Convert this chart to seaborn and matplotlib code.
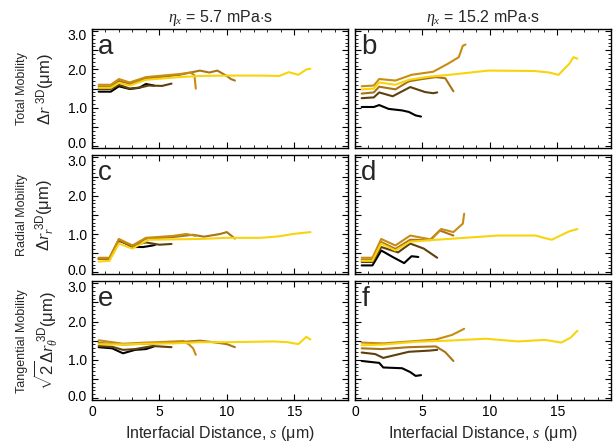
import numpy as np
import pandas as pd
import matplotlib
matplotlib.use('Agg')
import matplotlib.pyplot as plt
import matplotlib.transforms as mtransforms
from matplotlib.ticker import MultipleLocator
import seaborn as sns

sns.set_style('ticks')
plt.rcParams['font.family'] = ['Liberation Sans', 'DejaVu Sans']
plt.rcParams['mathtext.fontset'] = 'custom'
plt.rcParams['mathtext.rm'] = 'Liberation Sans'
plt.rcParams['mathtext.it'] = 'Liberation Serif:italic'

# series names (dark -> bright) and colours
series = ['S1', 'S2', 'S3', 'S4', 'S5']
colors = ['#000000', '#5e400e', '#a87418', '#c88c12', '#f8d40c']

# ---- panel a : total mobility, 5.7 mPa.s ----
a_s = {
    'S1': [0.5, 1.4, 2.0, 2.8, 3.5, 4.0, 4.6],
    'S2': [0.5, 1.4, 2.0, 2.8, 3.6, 4.2, 5.2, 5.9],
    'S3': [0.5, 1.4, 2.0, 2.8, 4.0, 6.5, 8.0, 8.7, 9.3, 10.0, 10.3, 10.6],
    'S4': [0.5, 1.4, 2.0, 2.8, 4.0, 6.5, 7.3, 7.6, 7.7],
    'S5': [0.5, 1.4, 2.0, 2.8, 4.0, 6.5, 8.0, 10.0, 12.5, 13.9, 14.6, 15.3, 15.9, 16.2],
}
a_v = {
    'S1': [1.42, 1.42, 1.56, 1.49, 1.52, 1.62, 1.58],
    'S2': [1.49, 1.49, 1.60, 1.50, 1.53, 1.58, 1.57, 1.63],
    'S3': [1.55, 1.55, 1.70, 1.62, 1.76, 1.86, 1.97, 1.92, 1.97, 1.83, 1.75, 1.71],
    'S4': [1.60, 1.60, 1.75, 1.66, 1.80, 1.88, 1.92, 1.85, 1.50],
    'S5': [1.52, 1.52, 1.65, 1.58, 1.73, 1.80, 1.83, 1.84, 1.84, 1.83, 1.93, 1.86, 2.00, 2.02],
}

# ---- panel b : total mobility, 15.2 mPa.s ----
b_s = {
    'S1': [0.5, 1.4, 1.8, 2.5, 3.5, 4.0, 4.5, 4.9],
    'S2': [0.5, 1.4, 1.8, 2.8, 4.1, 5.2, 5.8, 6.1],
    'S3': [0.5, 1.4, 1.8, 3.0, 4.0, 5.0, 6.0, 6.7, 7.3],
    'S4': [0.5, 1.4, 1.8, 3.0, 4.2, 5.8, 6.9, 7.7, 8.0, 8.2],
    'S5': [0.5, 1.4, 1.8, 3.0, 4.0, 5.5, 7.0, 9.9, 13.3, 14.4, 15.1, 15.9, 16.2, 16.5],
}
b_v = {
    'S1': [1.02, 1.02, 1.07, 0.97, 0.93, 0.89, 0.80, 0.77],
    'S2': [1.25, 1.27, 1.40, 1.30, 1.54, 1.41, 1.38, 1.40],
    'S3': [1.37, 1.40, 1.55, 1.48, 1.69, 1.75, 1.80, 1.77, 1.43],
    'S4': [1.56, 1.58, 1.75, 1.71, 1.86, 1.94, 2.15, 2.32, 2.62, 2.65],
    'S5': [1.48, 1.50, 1.66, 1.60, 1.73, 1.81, 1.86, 1.97, 1.96, 1.92, 1.86, 2.15, 2.32, 2.28],
}

# ---- panel c : radial mobility, 5.7 mPa.s ----
c_s = {
    'S1': [0.5, 1.3, 2.0, 3.0, 3.8, 4.5, 4.7],
    'S2': [0.5, 1.3, 2.0, 3.0, 4.0, 5.0, 5.9],
    'S3': [0.5, 1.3, 2.0, 3.0, 4.0, 6.0, 7.5, 8.3, 9.5, 10.0, 10.6],
    'S4': [0.5, 1.3, 2.0, 3.0, 4.0, 6.0, 7.0, 7.7],
    'S5': [0.5, 1.3, 2.0, 3.0, 4.2, 6.0, 8.0, 10.0, 12.5, 13.9, 14.9, 16.2],
}
c_v = {
    'S1': [0.36, 0.36, 0.85, 0.66, 0.66, 0.70, 0.72],
    'S2': [0.35, 0.35, 0.82, 0.70, 0.78, 0.72, 0.74],
    'S3': [0.35, 0.35, 0.85, 0.68, 0.88, 0.92, 0.98, 0.93, 1.00, 1.05, 0.88],
    'S4': [0.38, 0.38, 0.87, 0.70, 0.90, 0.95, 1.00, 0.95],
    'S5': [0.28, 0.30, 0.75, 0.62, 0.85, 0.86, 0.87, 0.90, 0.90, 0.94, 1.00, 1.05],
}

# ---- panel d : radial mobility, 15.2 mPa.s ----
d_s = {
    'S1': [0.5, 1.3, 1.95, 2.8, 3.65, 4.2, 4.7],
    'S2': [0.5, 1.3, 1.95, 3.2, 4.1, 5.1, 6.1],
    'S3': [0.5, 1.3, 1.95, 3.0, 4.1, 5.6, 6.3, 7.3],
    'S4': [0.5, 1.3, 1.95, 3.0, 4.1, 5.6, 6.4, 7.3, 8.0, 8.1],
    'S5': [0.5, 1.3, 1.95, 3.0, 4.1, 5.6, 6.9, 10.6, 13.4, 14.0, 14.6, 15.0, 15.9, 16.5],
}
d_v = {
    'S1': [0.18, 0.18, 0.57, 0.40, 0.24, 0.42, 0.40],
    'S2': [0.27, 0.27, 0.66, 0.52, 0.75, 0.62, 0.38],
    'S3': [0.33, 0.33, 0.79, 0.61, 0.85, 0.84, 1.09, 0.96],
    'S4': [0.38, 0.38, 0.87, 0.70, 0.96, 0.86, 1.13, 1.05, 1.27, 1.53],
    'S5': [0.30, 0.30, 0.75, 0.57, 0.80, 0.84, 0.87, 0.96, 0.96, 0.90, 0.85, 0.92, 1.07, 1.13],
}

# ---- panel e : tangential mobility, 5.7 mPa.s ----
e_s = {
    'S1': [0.5, 1.5, 2.3, 3.2, 4.0, 4.6],
    'S2': [0.5, 1.5, 2.3, 3.2, 4.5, 5.9],
    'S3': [0.5, 2.3, 4.0, 6.0, 8.0, 9.0, 10.0, 10.6],
    'S4': [0.5, 2.3, 4.0, 5.5, 6.8, 7.2, 7.5, 7.7],
    'S5': [0.5, 2.3, 4.0, 6.1, 8.0, 10.0, 13.5, 14.5, 15.3, 15.9, 16.2],
}
e_v = {
    'S1': [1.33, 1.30, 1.17, 1.26, 1.28, 1.35],
    'S2': [1.36, 1.34, 1.26, 1.28, 1.36, 1.33],
    'S3': [1.44, 1.40, 1.42, 1.45, 1.50, 1.46, 1.41, 1.33],
    'S4': [1.51, 1.42, 1.45, 1.47, 1.49, 1.40, 1.30, 1.13],
    'S5': [1.41, 1.40, 1.42, 1.43, 1.46, 1.46, 1.48, 1.46, 1.41, 1.60, 1.53],
}

# ---- panel f : tangential mobility, 15.2 mPa.s ----
f_s = {
    'S1': [0.5, 1.8, 2.1, 3.5, 4.1, 4.5, 4.9],
    'S2': [0.5, 1.5, 2.1, 4.0, 5.5, 6.1],
    'S3': [0.5, 2.0, 4.0, 6.0, 6.7, 7.3],
    'S4': [0.5, 2.1, 4.5, 6.0, 7.2, 8.1],
    'S5': [0.5, 2.1, 4.5, 6.9, 9.7, 12.1, 14.1, 15.3, 16.0, 16.5],
}
f_v = {
    'S1': [0.97, 0.92, 0.80, 0.78, 0.68, 0.58, 0.60],
    'S2': [1.19, 1.15, 1.05, 1.21, 1.24, 1.26],
    'S3': [1.30, 1.28, 1.33, 1.35, 1.20, 0.97],
    'S4': [1.45, 1.43, 1.49, 1.53, 1.65, 1.81],
    'S5': [1.38, 1.40, 1.47, 1.50, 1.55, 1.48, 1.52, 1.45, 1.58, 1.76],
}

panel_letters = ['a', 'b', 'c', 'd', 'e', 'f']
panel_s = [a_s, b_s, c_s, d_s, e_s, f_s]
panel_v = [a_v, b_v, c_v, d_v, e_v, f_v]

col_titles = [r'$\eta_x$ = 5.7 mPa$\cdot$s', r'$\eta_x$ = 15.2 mPa$\cdot$s']
row_small = ['Total Mobility', 'Radial Mobility', 'Tangential Mobility']
row_big = [r'$\Delta r^{\ \mathrm{3D}}$($\mathrm{\mu}$m)',
           r'$\Delta r_r^{\ \mathrm{3D}}$($\mathrm{\mu}$m)',
           r'$\sqrt{2}\Delta r_\theta^{\ \mathrm{3D}}$($\mathrm{\mu}$m)']

yticks = [0.0, 0.5, 1.0, 1.5, 2.0, 2.5, 3.0]


def make_df(sd, vd):
    rows = []
    for name in series:
        for i, (s, v) in enumerate(zip(sd[name], vd[name])):
            rows.append({'s': s, 'val': v, 'series': name, 'order': i})
    return pd.DataFrame(rows)


fig = plt.figure(figsize=(6.13, 4.43), dpi=100)
lefts = [0.150, 0.579]
width = 0.418
bottoms = [0.666, 0.381, 0.097]
height = 0.268

for k in range(6):
    r, c = divmod(k, 2)
    ax = fig.add_axes([lefts[c], bottoms[r], width, height])
    df = make_df(panel_s[k], panel_v[k])
    sns.lineplot(data=df, x='s', y='val', hue='series', palette=colors,
                 hue_order=series, sort=False, estimator=None, units='series',
                 lw=1.5, legend=False, ax=ax)
    ax.xaxis.set_major_locator(MultipleLocator(5))
    ax.xaxis.set_minor_locator(MultipleLocator(1))
    ax.yaxis.set_minor_locator(MultipleLocator(0.1))
    ax.set_yticks(yticks)
    ax.set_xlim(0, 19)
    ax.set_ylim(-0.05, 3.05)
    ax.tick_params(which='both', direction='in', top=True, right=True,
                   labelsize=10, colors='black')
    ax.tick_params(which='major', length=4, width=0.8)
    ax.tick_params(which='minor', length=2, width=0.6)
    if c == 0:
        ax.set_yticklabels([f'{v:.1f}' if v == int(v) else '' for v in yticks])
        # nudge end labels inward a little so they do not collide between rows
        ticks = ax.yaxis.get_major_ticks()
        for t, dy in ((ticks[0], 2.2), (ticks[-1], -2.2)):
            t.label1.set_transform(t.label1.get_transform() +
                                   mtransforms.ScaledTranslation(0, dy / 72, fig.dpi_scale_trans))
    else:
        ax.set_yticklabels([])
    for sp in ax.spines.values():
        sp.set_linewidth(1.0)
        sp.set_color('black')
    ax.set_xlabel('')
    ax.set_ylabel('')
    ax.text(0.025, 0.96, panel_letters[k], transform=ax.transAxes,
            fontsize=20, va='top', ha='left')
    if r < 2:
        ax.set_xticklabels([])
    else:
        ax.set_xlabel(r'Interfacial Distance, $\mathit{s}$ ($\mathrm{\mu}$m)',
                      fontsize=11.5, labelpad=4)
    if r == 0:
        ax.set_title(col_titles[c], fontsize=11.5, pad=5)
    if c == 0:
        ax.text(-0.272, 0.5, row_small[r], transform=ax.transAxes, rotation=90,
                fontsize=9, ha='center', va='center')
        ax.text(-0.18, 0.5, row_big[r], transform=ax.transAxes, rotation=90,
                fontsize=12, ha='center', va='center')

fig.savefig('out.png', dpi=100)
